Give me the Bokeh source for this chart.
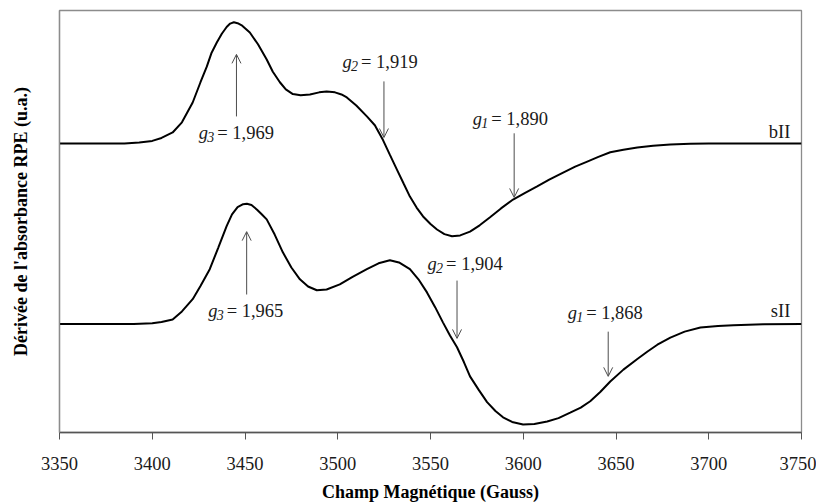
from bokeh.plotting import figure
from bokeh.models import ColumnDataSource, Arrow, OpenHead, Range1d, FixedTicker
from bokeh.embed import file_html
from bokeh.resources import INLINE
from bokeh.core.properties import value

# ---- data ----
field_bII = [3350, 3385, 3393, 3400, 3405, 3411, 3416, 3421.8, 3426, 3429.4,
             3432, 3434.8, 3437.5, 3440.1, 3442, 3444, 3446, 3448.5, 3452.6, 3457,
             3461.7, 3465, 3468.8, 3472, 3475.8, 3480, 3485, 3490, 3494, 3498.5,
             3502, 3504.9, 3510, 3515.7, 3520, 3524.4, 3528, 3531.9, 3535.5, 3538.9,
             3542.5, 3546, 3550, 3553.5, 3557.5, 3561.6, 3566, 3571.3, 3576.5, 3582.1,
             3588, 3594.5, 3601, 3607.5, 3614, 3621.5, 3628, 3634.5, 3640.5, 3646.9,
             3654, 3661.5, 3670, 3679.3, 3690, 3700, 3750]
signal_bII = [0, 0, 0.2, 0.6, 1.3, 2.6, 5.0, 9.7, 14.5, 18.2,
              21.5, 23.9, 26.0, 27.6, 28.4, 28.7, 28.5, 27.9, 26.3, 23.5,
              19.9, 17.0, 14.5, 12.8, 11.7, 11.4, 11.6, 12.1, 12.3, 12.1,
              11.6, 10.9, 9.0, 6.4, 4.3, 0.8, -2.6, -6.2, -9.5, -12.6,
              -15.2, -17.3, -19.1, -20.4, -21.5, -22.0, -21.8, -20.9, -19.4, -17.5,
              -15.4, -13.3, -11.7, -10.2, -8.6, -6.9, -5.5, -4.3, -3.2, -2.1,
              -1.5, -0.95, -0.55, -0.24, -0.05, 0, 0]

field_sII = [3350, 3390, 3400, 3405, 3411, 3416, 3421.8, 3426, 3431, 3435.5,
             3440.1, 3443, 3446, 3449, 3451, 3453.5, 3456.5, 3459, 3461.7, 3466,
             3470.4, 3475, 3479.6, 3484, 3488.7, 3494, 3501.1, 3508, 3515.7, 3522,
             3528.1, 3533, 3538.9, 3543.5, 3548.1, 3552.5, 3556.7, 3560.5, 3564.3, 3568,
             3571.3, 3576, 3580.5, 3585, 3589.1, 3594, 3599.9, 3606, 3612.9, 3619,
             3625.3, 3631, 3636.1, 3641.5, 3646.9, 3654, 3661.5, 3667, 3672.3, 3679.3,
             3687, 3695.5, 3705, 3713.3, 3729.5, 3750]
signal_sII = [0, 0, 0.2, 0.5, 1.1, 3.0, 5.9, 9.0, 13.0, 18.0,
              23.2, 26.0, 27.7, 28.4, 28.5, 28.2, 27.1, 26.0, 24.8, 21.2,
              17.0, 13.4, 10.6, 8.9, 8.0, 8.2, 9.4, 11.2, 13.0, 14.4,
              15.1, 14.6, 13.0, 10.6, 7.5, 4.0, 0.4, -2.7, -5.5, -9.0,
              -12.4, -15.6, -18.5, -20.6, -22.1, -23.2, -23.8, -23.7, -23.1, -22.3,
              -21.0, -19.8, -18.3, -16.1, -13.6, -10.8, -8.3, -6.5, -4.9, -3.2,
              -1.8, -0.8, -0.45, -0.3, -0.07, 0]

offset_bII = 68.5
offset_sII = 25.7

x_ticks = [3350, 3400, 3450, 3500, 3550, 3600, 3650, 3700, 3750]

# g-value annotations
ann_sub = ["3", "2", "1", "3", "2", "1"]
ann_value = ["1,969", "1,919", "1,890", "1,965", "1,904", "1,868"]
ann_field = [3445.4, 3524.9, 3595.1, 3450.9, 3564.3, 3645.8]
ann_tail = [74.9, 83.2, 70.9, 32.7, 36.0, 23.9]
ann_head = [89.6, 69.9, 55.7, 47.6, 22.3, 13.3]
ann_label_x = [3445.8, 3523.3, 3593.5, 3450.9, 3569.2, 3644.7]
ann_label_y = [70.9, 87.7, 74.2, 28.7, 40.0, 28.4]

series_names = ["bII", "sII"]
series_label_x = [3744, 3744]
series_label_y = [71.3, 28.9]

# ---- figure ----
FONT = "Liberation Serif"
p = figure(width=816, height=504, output_backend="svg", toolbar_location=None,
           x_range=Range1d(3350, 3750), y_range=Range1d(0, 100),
           min_border_left=59, min_border_right=15, min_border_top=10, min_border_bottom=70)
p.background_fill_color = "white"
p.border_fill_color = "white"
p.outline_line_color = "#8c8c8c"
p.outline_line_width = 1.3
p.grid.visible = False

y_bII = [s + offset_bII for s in signal_bII]
y_sII = [s + offset_sII for s in signal_sII]
p.line(field_bII, y_bII, line_color="black", line_width=2)
p.line(field_sII, y_sII, line_color="black", line_width=2)

# x axis
xa = p.xaxis[0]
xa.ticker = FixedTicker(ticks=x_ticks)
xa.minor_tick_line_color = None
xa.major_tick_out = 7
xa.major_tick_in = 0
xa.major_tick_line_color = "#555555"
xa.axis_line_color = "#555555"
xa.axis_line_width = 1.3
xa.major_label_text_font = FONT
xa.major_label_text_font_size = "18.5px"
xa.major_label_text_color = "#1a1a1a"
xa.major_label_standoff = 17
xa.axis_label = "Champ Magnétique (Gauss)"
xa.axis_label_text_font = FONT
xa.axis_label_text_font_size = "18px"
xa.axis_label_text_font_style = "bold"
xa.axis_label_text_color = "black"
xa.axis_label_standoff = 9

# y axis
ya = p.yaxis[0]
ya.ticker = FixedTicker(ticks=[])
ya.minor_tick_line_color = None
ya.major_tick_line_color = None
ya.major_label_text_font_size = "0px"
ya.axis_line_color = "#8c8c8c"
ya.axis_line_width = 1.3
ya.axis_label = "Dérivée de l'absorbance RPE (u.a.)"
ya.axis_label_text_font = FONT
ya.axis_label_text_font_size = "18px"
ya.axis_label_text_font_style = "bold"
ya.axis_label_text_color = "black"
ya.axis_label_standoff = 29

# arrows
arrow_src = ColumnDataSource(dict(x0=ann_field, y0=ann_tail, x1=ann_field, y1=ann_head))
p.add_layout(Arrow(source=arrow_src, x_start="x0", y_start="y0", x_end="x1", y_end="y1",
                   line_color="#4d4d4d", line_width=1,
                   end=OpenHead(size=9, line_color="#4d4d4d", line_width=1)))

# labels: italic g, subscript index, then "= value"
lab = ColumnDataSource(dict(x=ann_label_x, y=ann_label_y,
                            g=["g"] * len(ann_sub), sub=ann_sub,
                            rest=["= " + v for v in ann_value]))
half_w = 38.5
p.text(x="x", y="y", text="g", source=lab, x_offset=-half_w, y_offset=0,
       text_font=value(FONT), text_font_size=value("18.5px"), text_font_style=value("italic"),
       text_align=value("left"), text_baseline=value("middle"), text_color="#1a1a1a")
p.text(x="x", y="y", text="sub", source=lab, x_offset=-half_w + 8.5, y_offset=4,
       text_font=value(FONT), text_font_size=value("14px"), text_font_style=value("italic"),
       text_align=value("left"), text_baseline=value("middle"), text_color="#1a1a1a")
p.text(x="x", y="y", text="rest", source=lab, x_offset=-half_w + 18.5, y_offset=0,
       text_font=value(FONT), text_font_size=value("18.5px"),
       text_align=value("left"), text_baseline=value("middle"), text_color="#1a1a1a")

# series names
p.text(x=series_label_x, y=series_label_y, text=series_names,
       text_font=value(FONT), text_font_size=value("18.5px"),
       text_align=value("right"), text_baseline=value("middle"), text_color="#1a1a1a")

open("out.html", "w").write(file_html(p, INLINE))
